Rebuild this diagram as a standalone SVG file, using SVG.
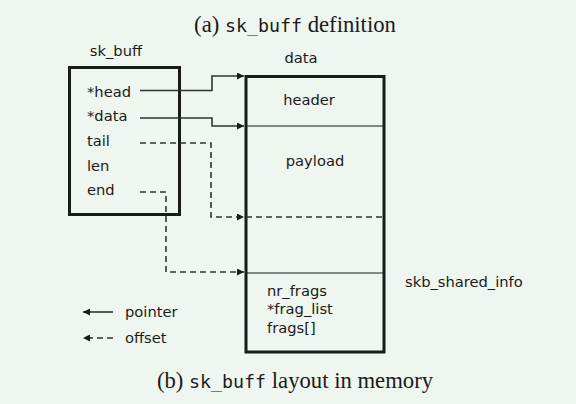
<svg xmlns="http://www.w3.org/2000/svg" width="576" height="404" viewBox="0 0 576 404">
<style>
.lbl{font-family:"DejaVu Sans",sans-serif;font-size:14.7px;fill:#1a1a1a}
.cap{font-family:"Liberation Serif",serif;font-size:22.7px;fill:#1a1a1a}
.mono{font-family:"DejaVu Sans Mono",monospace;font-size:18.3px}
.box{fill:none;stroke:#1a1a1a;stroke-width:3}
.sep{stroke:#1a1a1a;stroke-width:1.2;fill:none}
.ptr{fill:none;stroke:#333;stroke-width:1.6}
.off{fill:none;stroke:#333;stroke-width:1.6;stroke-dasharray:6 4}
</style>
<defs>
<marker id="ah" viewBox="0 0 10 10" refX="10" refY="5" markerWidth="7" markerHeight="7" markerUnits="userSpaceOnUse" orient="auto">
<path d="M0,0 L10,5 L0,10 z" fill="#1a1a1a"/>
</marker>
</defs>
<rect width="576" height="404" fill="#eff5ef"/>
<text class="cap" x="295" y="32" text-anchor="middle">(a) <tspan class="mono">sk_buff</tspan> definition</text>
<g id="sk_buff">
<text class="lbl" x="116" y="56" text-anchor="middle">sk_buff</text>
<rect class="box" x="69.5" y="67.5" width="110" height="147"/>
<text class="lbl" x="87" y="97">*head</text>
<text class="lbl" x="87" y="121">*data</text>
<text class="lbl" x="87" y="146">tail</text>
<text class="lbl" x="87" y="171">len</text>
<text class="lbl" x="87" y="195">end</text>
</g>
<g id="data">
<text class="lbl" x="301" y="63" text-anchor="middle">data</text>
<rect class="box" x="246" y="76.5" width="138" height="275.5"/>
<line class="sep" x1="246" y1="126" x2="384" y2="126"/>
<line class="sep" x1="246" y1="273" x2="384" y2="273"/>
<line class="off" x1="246" y1="217" x2="384" y2="217"/>
<text class="lbl" x="309" y="105" text-anchor="middle">header</text>
<text class="lbl" x="315" y="166" text-anchor="middle">payload</text>
<text class="lbl" x="267" y="296">nr_frags</text>
<text class="lbl" x="267" y="314">*frag_list</text>
<text class="lbl" x="267" y="333">frags[]</text>
</g>
<g id="skb_shared_info">
<text class="lbl" x="405" y="287">skb_shared_info</text>
</g>
<g id="connectors">
<polyline class="ptr" points="140,90.5 212,90.5 212,76 244,76" marker-end="url(#ah)"/>
<polyline class="ptr" points="140,118 212,118 212,126 244,126" marker-end="url(#ah)"/>
<polyline class="off" points="140,143 211,143 211,217 244,217" marker-end="url(#ah)"/>
<polyline class="off" points="140,192 166,192 166,272 244,272" marker-end="url(#ah)"/>
</g>
<g id="legend">
<line class="ptr" x1="113" y1="312" x2="83" y2="312" marker-end="url(#ah)"/>
<text class="lbl" x="125" y="317">pointer</text>
<line class="off" x1="113" y1="338" x2="83" y2="338" marker-end="url(#ah)" stroke-dasharray="5 4"/>
<text class="lbl" x="125" y="343">offset</text>
</g>
<text class="cap" x="295" y="388" text-anchor="middle">(b) <tspan class="mono">sk_buff</tspan> layout in memory</text>
</svg>
